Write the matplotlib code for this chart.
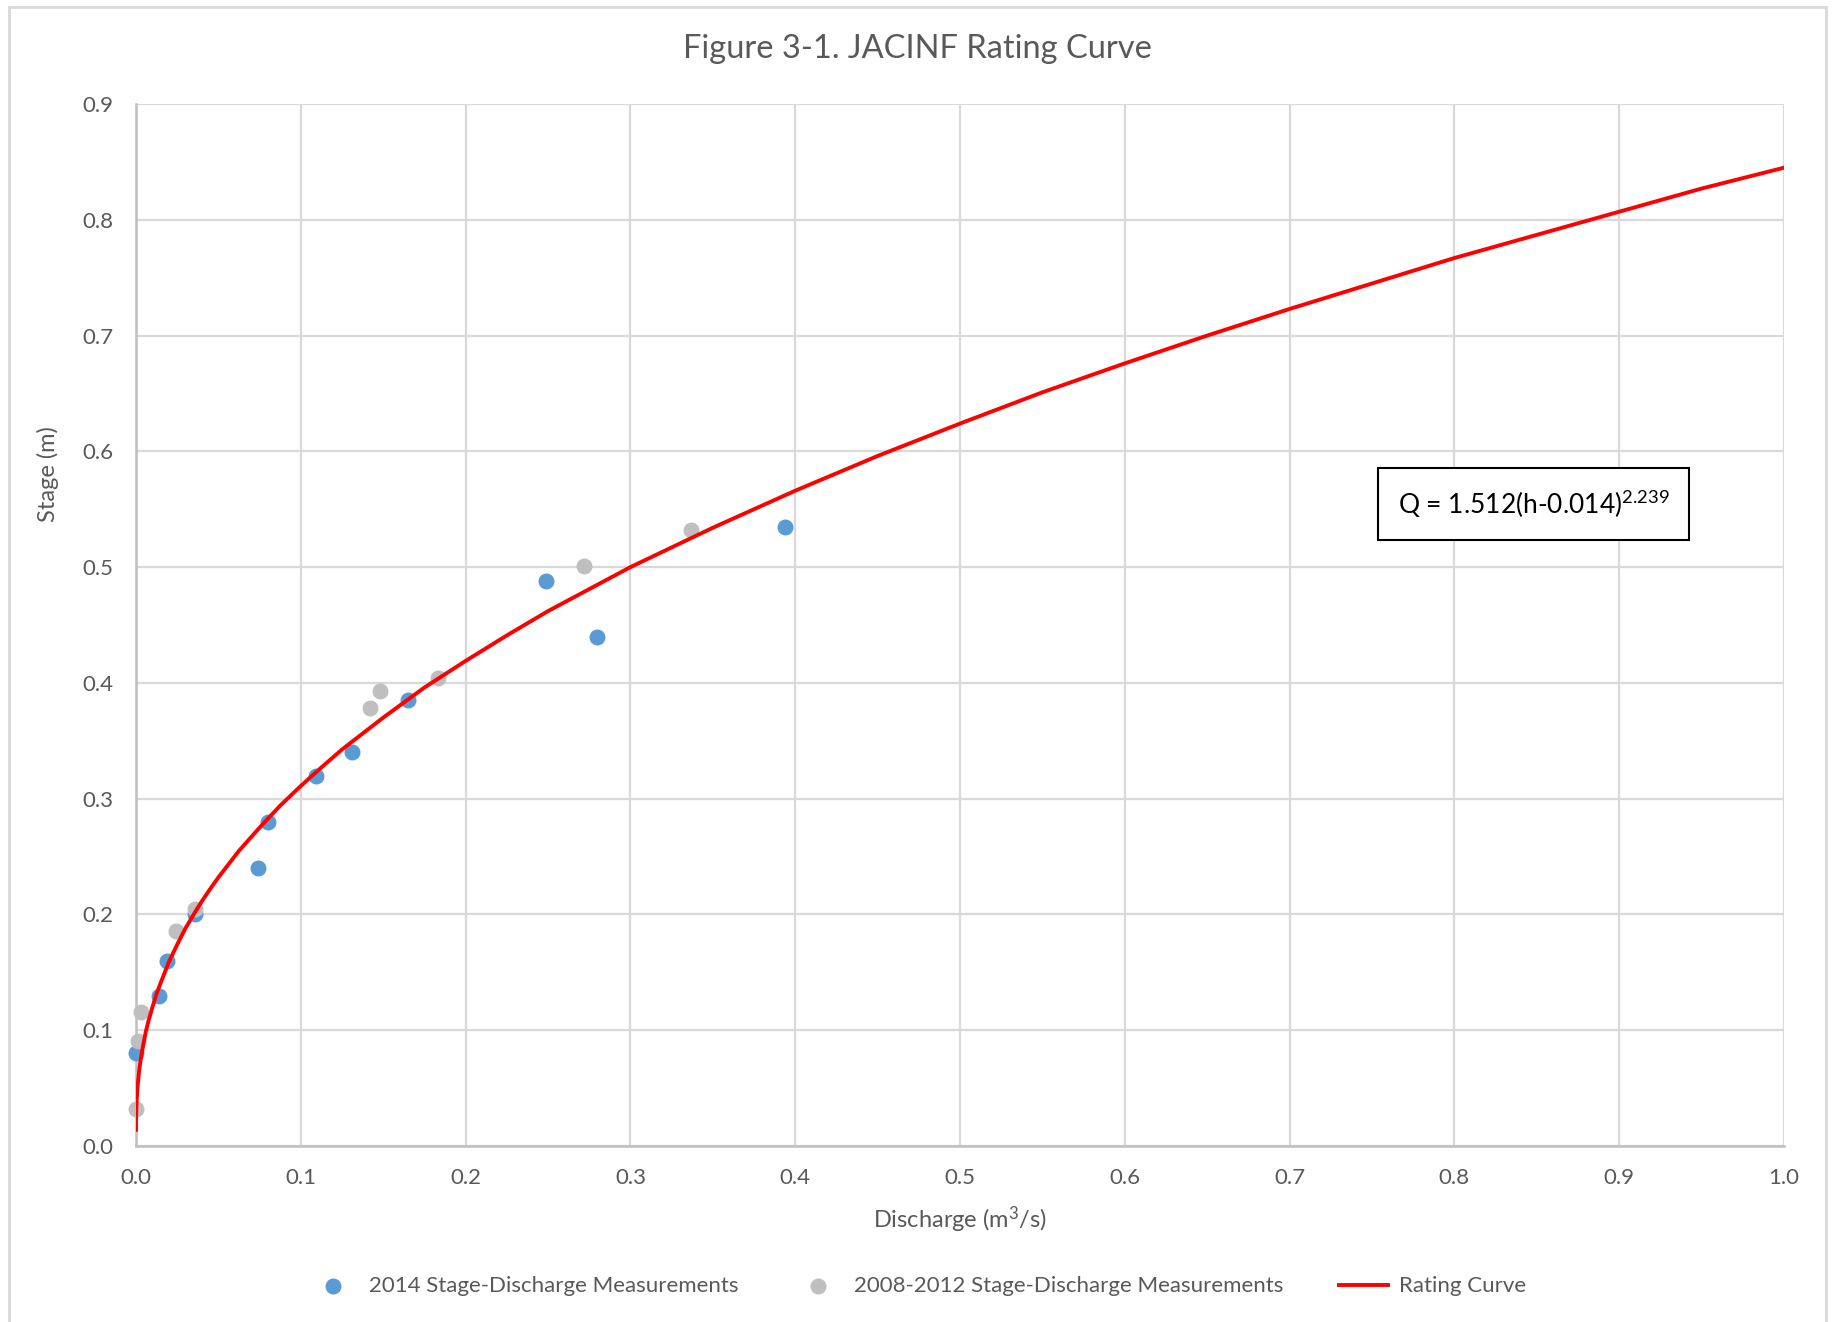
import matplotlib.pyplot as plt
from matplotlib.patches import Rectangle

plt.rcParams['font.family'] = ['Lato', 'DejaVu Sans']
plt.rcParams['mathtext.fontset'] = 'custom'
plt.rcParams['mathtext.rm'] = 'Lato'
plt.rcParams['mathtext.it'] = 'Lato'

# 2014 measurements (discharge m3/s, stage m)
q_2014 = [0.0, 0.014, 0.019, 0.036, 0.074, 0.080, 0.109, 0.131, 0.165, 0.249, 0.280, 0.394]
h_2014 = [0.080, 0.130, 0.160, 0.200, 0.240, 0.280, 0.320, 0.340, 0.385, 0.488, 0.440, 0.535]

# 2008-2012 measurements
q_old = [0.0, 0.001, 0.003, 0.024, 0.036, 0.142, 0.148, 0.183, 0.272, 0.337]
h_old = [0.032, 0.091, 0.116, 0.186, 0.205, 0.378, 0.393, 0.404, 0.501, 0.532]

# rating curve
q_curve = [0.0, 0.00003, 0.0002, 0.0004, 0.001, 0.002, 0.003, 0.0045, 0.006, 0.0075,
           0.01, 0.0125, 0.015, 0.02, 0.025, 0.03, 0.035, 0.04, 0.045, 0.05, 0.0625,
           0.075, 0.0875, 0.1, 0.1125, 0.125, 0.15, 0.175, 0.2, 0.225, 0.25, 0.275,
           0.3, 0.35, 0.4, 0.45, 0.5, 0.55, 0.6, 0.65, 0.7, 0.75, 0.8, 0.85, 0.9,
           0.95, 1.0]
h_curve = [0.014, 0.022, 0.0325, 0.039, 0.052, 0.066, 0.076, 0.088, 0.099, 0.1075,
           0.120, 0.1315, 0.141, 0.159, 0.174, 0.188, 0.200, 0.2115, 0.222, 0.232, 0.255,
           0.275, 0.294, 0.311, 0.327, 0.3425, 0.370, 0.396, 0.419, 0.441, 0.462, 0.481,
           0.500, 0.534, 0.566, 0.596, 0.624, 0.651, 0.676, 0.700, 0.723, 0.745, 0.767,
           0.787, 0.807, 0.827, 0.845]

x_ticks = [0.0, 0.1, 0.2, 0.3, 0.4, 0.5, 0.6, 0.7, 0.8, 0.9, 1.0]
y_ticks = [0.0, 0.1, 0.2, 0.3, 0.4, 0.5, 0.6, 0.7, 0.8, 0.9]

txt = '#595959'
grid = '#d9d9d9'

fig = plt.figure(figsize=(18.35, 13.22), dpi=100)
ax = fig.add_axes([0.0741, 0.1331, 0.8981, 0.7882])

ax.scatter(q_2014, h_2014, s=110, color='#5b9bd5', zorder=3, clip_on=False,
           label='2014 Stage-Discharge Measurements')
ax.scatter(q_old, h_old, s=110, color='#bfbfbf', zorder=4, clip_on=False,
           label='2008-2012 Stage-Discharge Measurements')
ax.plot(q_curve, h_curve, color='#ff0000', lw=2.8, zorder=5, label='Rating Curve',
        solid_joinstyle='round')

ax.set_xlim(0, 1.0)
ax.set_ylim(0, 0.9)
ax.set_xticks(x_ticks)
ax.set_yticks(y_ticks)
ax.set_xticklabels(['%.1f' % v for v in x_ticks])
ax.set_yticklabels(['%.1f' % v for v in y_ticks])
ax.tick_params(length=0, labelsize=16, labelcolor=txt)
ax.tick_params(axis='x', pad=16)
ax.tick_params(axis='y', pad=16)
ax.grid(True, color=grid, lw=1.6)
ax.set_axisbelow(True)
for s in ['top', 'right']:
    ax.spines[s].set_visible(False)
for s in ['left', 'bottom']:
    ax.spines[s].set_color('#bfbfbf')
    ax.spines[s].set_linewidth(1.8)

ax.set_xlabel('Discharge (m$^3$/s)', fontsize=17, color=txt, labelpad=12)
ax.set_ylabel('Stage (m)', fontsize=17, color=txt)
ax.yaxis.set_label_coords(-0.047, 0.645)
fig.text(0.5, 0.963, 'Figure 3-1. JACINF Rating Curve', ha='center', va='center',
         fontsize=23.5, color=txt)

ax.text(0.848, 0.5545, 'Q = 1.512(h-0.014)$^{2.239}$', ha='center', va='center',
        fontsize=19, color='black', zorder=6,
        bbox=dict(boxstyle='square,pad=0.75', fc='white', ec='black', lw=1.5))

fig.legend(loc='center', bbox_to_anchor=(0.5, 0.027), ncol=3, frameon=False,
           fontsize=16, labelcolor=txt, columnspacing=2.5, handletextpad=0.5,
           handlelength=2.2, markerscale=1.0)

fig.patches.append(Rectangle((0.005, -0.01), 0.99, 1.005, transform=fig.transFigure,
                             fill=False, ec='#d9d9d9', lw=2))

fig.savefig('out.png', dpi=100)
